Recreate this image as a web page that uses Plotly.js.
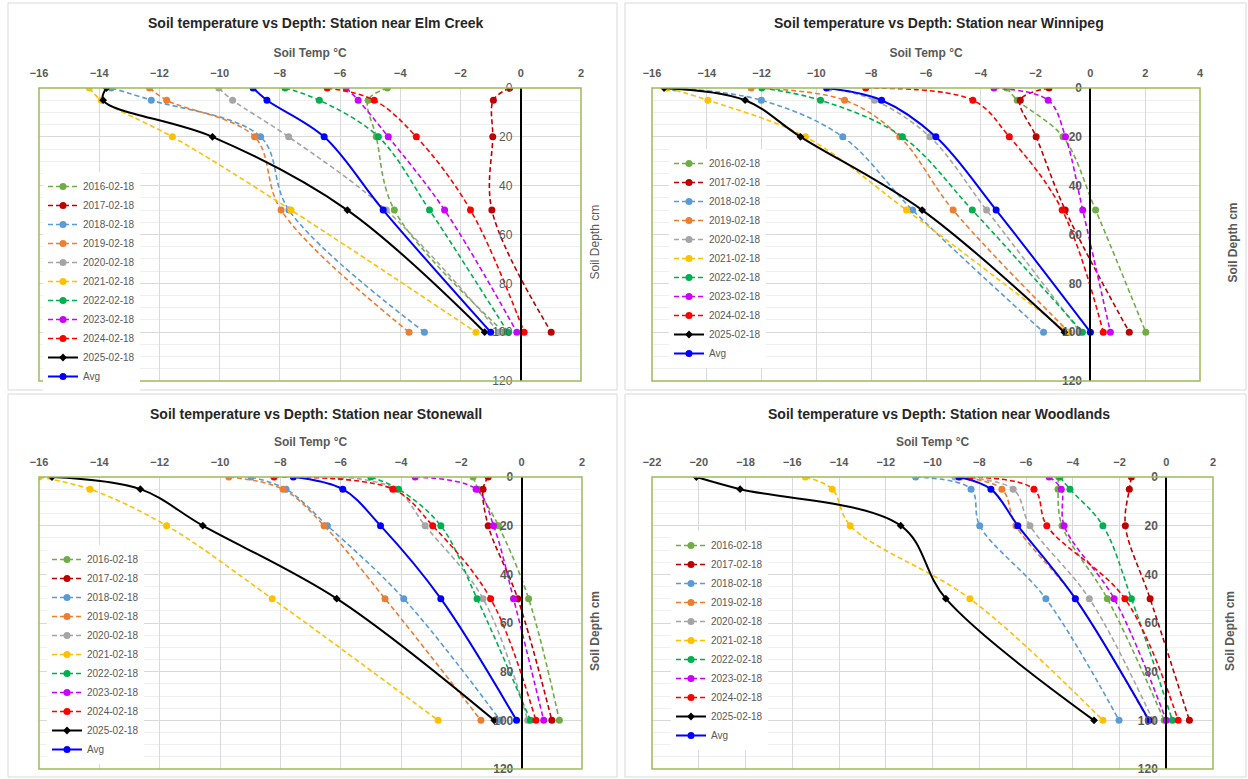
<!DOCTYPE html>
<html><head><meta charset="utf-8">
<script src="https://cdn.plot.ly/plotly-3.0.1.min.js"></script>
<style>html,body{margin:0;padding:0;background:#fff}#chart{width:1248px;height:779px}</style>
</head><body><div id="chart"></div>
<script>
// ---- data ----
const depths = [0, 5, 20, 50, 100];
const seriesNames = ['2016-02-18','2017-02-18','2018-02-18','2019-02-18','2020-02-18','2021-02-18','2022-02-18','2023-02-18','2024-02-18','2025-02-18','Avg'];
const stationNames = ['Elm Creek', 'Winnipeg', 'Stonewall', 'Woodlands'];
const yTicks = [0, 20, 40, 60, 80, 100, 120];

// rows follow seriesNames; columns follow depths (soil temperature, °C)
const elmCreek = [
  [-4.43, -5.07, -4.8, -4.2, -0.56],
  [-0.37, -0.91, -0.93, -0.96, 1.01],
  [-13.6, -12.27, -8.64, -7.7, -3.2],
  [-12.33, -11.76, -8.84, -7.96, -3.71],
  [-10.03, -9.57, -7.71, -4.47, -0.73],
  [-14.33, -13.93, -11.57, -7.63, -1.49],
  [-7.83, -6.69, -4.73, -3.03, -0.43],
  [-5.8, -5.4, -4.4, -2.53, -0.13],
  [-6.43, -4.87, -3.47, -1.67, 0.11],
  [-13.76, -13.87, -10.24, -5.76, -1.2],
  [-8.89, -8.43, -6.53, -4.57, -1.0]
];
const winnipeg = [
  [-3.05, -2.67, -1.0, 0.19, 2.02],
  [-1.51, -2.56, -1.98, -0.92, 1.42],
  [-15.16, -12.01, -9.04, -6.49, -1.71],
  [-12.38, -8.97, -6.96, -5.01, -0.78],
  [-9.52, -7.88, -5.86, -3.79, -0.37],
  [-15.43, -13.96, -10.4, -6.71, -0.84],
  [-11.99, -9.85, -6.86, -4.31, -0.29],
  [-3.52, -1.54, -0.91, -0.28, 0.73],
  [-8.2, -4.29, -2.96, -1.03, 0.47],
  [-15.56, -12.6, -10.58, -6.14, -0.95],
  [-9.63, -7.62, -5.64, -3.44, 0.0]
];
const stonewall = [
  [-1.61, -1.44, -0.77, 0.23, 1.25],
  [-1.11, -1.28, -1.11, -0.13, 1.0],
  [-8.97, -7.81, -6.44, -3.91, -0.71],
  [-9.71, -7.91, -6.55, -4.53, -1.35],
  [-6.0, -4.17, -3.2, -1.28, 0.2],
  [-16.0, -14.31, -11.77, -8.27, -2.77],
  [-5.0, -4.08, -2.68, -1.48, 0.29],
  [-3.53, -1.51, -0.93, -0.27, 0.73],
  [-8.21, -4.27, -2.95, -1.03, 0.47],
  [-15.57, -12.64, -10.57, -6.13, -0.91],
  [-7.57, -5.93, -4.68, -2.68, -0.17]
];
const woodlands = [
  [-4.6, -4.63, -4.46, -2.52, -0.09],
  [-1.49, -1.58, -1.75, -0.69, 0.99],
  [-10.72, -8.35, -7.98, -5.15, -2.02],
  [-8.8, -7.03, -6.43, -3.89, -0.77],
  [-9.04, -6.55, -5.83, -3.29, -0.57],
  [-15.44, -14.29, -13.52, -8.4, -2.71],
  [-4.55, -4.12, -2.71, -1.49, 0.26],
  [-5.01, -4.49, -4.37, -2.23, 0.0],
  [-8.4, -5.66, -5.11, -1.77, 0.51],
  [-20.1, -18.23, -11.36, -9.43, -3.09],
  [-8.87, -7.5, -6.35, -3.89, -0.74]
];
const stationData = [elmCreek, winnipeg, stonewall, woodlands];

// ---- style ----
const seriesColors = ['#70AD47','#C00000','#5B9BD5','#ED7D31','#A5A5A5','#FFC000','#00B050','#CC00FF','#FF0000','#000000','#0000FF'];
const W = 1248, H = 779;
const FONT = 'Liberation Sans, Arial, sans-serif';
const panels = [
  {x0: 39, x1: 581, y0: 88, y1: 381, xr: [-16, 2], legX: 43, legY: 172, box: [8, 3, 617, 390], ytBold: false},
  {x0: 652, x1: 1200, y0: 88, y1: 381, xr: [-16, 4], legX: 669, legY: 149, box: [625, 3, 1246, 390], ytBold: true},
  {x0: 39, x1: 582, y0: 477, y1: 769, xr: [-16, 2], legX: 47, legY: 545, box: [8, 394, 617, 777], ytBold: true},
  {x0: 652, x1: 1213, y0: 477, y1: 769, xr: [-22, 2], legX: 671, legY: 531, box: [625, 394, 1246, 777], ytBold: true}
];
const px = v => v / W, py = v => 1 - v / H;

const traces = [];
const layout = {
  width: W, height: H,
  margin: {l: 0, r: 0, t: 0, b: 0},
  paper_bgcolor: '#fff', plot_bgcolor: '#fff',
  font: {family: FONT, color: '#595959'},
  showlegend: true,
  annotations: [], shapes: []
};

panels.forEach((p, k) => {
  const sfx = k === 0 ? '' : String(k + 1);
  const legName = 'legend' + sfx;
  const data = stationData[k];
  seriesNames.forEach((name, i) => {
    const isAvg = i === 10, isBlack = i === 9;
    traces.push({
      type: 'scatter', mode: 'lines+markers',
      x: data[i], y: depths, name: name,
      xaxis: 'x' + sfx, yaxis: 'y' + sfx, legend: legName,
      line: {color: seriesColors[i], width: (isAvg || isBlack) ? 2 : 1.6,
             dash: (isAvg || isBlack) ? 'solid' : '5px,3px', shape: 'spline', smoothing: 1},
      marker: {color: seriesColors[i], size: isBlack ? 6 : 7, symbol: isBlack ? 'diamond' : 'circle'}
    });
  });
  const xd = [px(p.x0), px(p.x1)];
  const yd = [py(p.y1), py(p.y0)];
  const zeroPx = p.x0 + (0 - p.xr[0]) / (p.xr[1] - p.xr[0]) * (p.x1 - p.x0);
  layout['xaxis' + sfx] = {
    domain: xd, range: p.xr, anchor: 'y' + sfx, side: 'top',
    dtick: 2, tick0: 0, ticks: '', showline: false, zeroline: false,
    showgrid: true, gridcolor: '#d9d9d9', gridwidth: 1,
    ticklabelstandoff: 8,
    tickfont: {family: FONT, size: 11, color: '#595959', weight: 'bold'},
    title: {text: 'Soil Temp °C', font: {family: FONT, size: 12, color: '#595959', weight: 'bold'}, standoff: 6},
    fixedrange: true
  };
  layout['yaxis' + sfx] = {
    domain: yd, range: [120, 0], anchor: 'free', position: px(zeroPx), side: 'left',
    tickvals: yTicks, ticks: '', showline: true, linecolor: '#000', linewidth: 2,
    ticklabelstandoff: 5,
    zeroline: false, showgrid: true, gridcolor: '#d9d9d9', gridwidth: 1,
    minor: {dtick: 5, tick0: 0, showgrid: true, gridcolor: '#efefef', gridwidth: 1},
    tickfont: {family: FONT, size: 12, color: '#595959', weight: p.ytBold ? 'bold' : 'normal'},
    fixedrange: true
  };
  layout[legName] = {
    x: px(p.legX), y: py(p.legY), xanchor: 'left', yanchor: 'top',
    bgcolor: '#ffffff', borderwidth: 0, itemwidth: 30, tracegroupgap: 0,
    font: {family: FONT, size: 10, color: '#595959'}
  };
  // chart frame
  layout.shapes.push({type: 'rect', xref: 'paper', yref: 'paper',
    x0: px(p.box[0]), x1: px(p.box[2]), y0: py(p.box[3]), y1: py(p.box[1]),
    line: {color: '#d9d9d9', width: 1}, layer: 'below'});
  // plot-area border
  layout.shapes.push({type: 'rect', xref: 'x' + sfx + ' domain', yref: 'y' + sfx + ' domain',
    x0: 0, x1: 1, y0: 0, y1: 1, line: {color: '#9BBB59', width: 1.5}, layer: 'above'});
  // panel title
  layout.annotations.push({xref: 'paper', yref: 'paper', x: px((p.box[0] + p.box[2]) / 2 + 3), y: py(p.box[1] + 20),
    xanchor: 'center', yanchor: 'middle', showarrow: false,
    text: 'Soil temperature vs Depth: Station near ' + stationNames[k],
    font: {family: FONT, size: 14, color: '#262626', weight: 'bold'}});
  // y axis title
  layout.annotations.push({xref: 'paper', yref: 'paper', x: px(p.x1 + (k === 3 ? 17 : (k === 1 ? 32 : 13))), y: py((p.y0 + p.y1) / 2 + 8),
    xanchor: 'center', yanchor: 'middle', showarrow: false, textangle: -90,
    text: 'Soil Depth cm',
    font: {family: FONT, size: 12, color: '#595959', weight: p.ytBold ? 'bold' : 'normal'}});
});

Plotly.newPlot('chart', traces, layout, {displayModeBar: false, staticPlot: true});
</script>
</body></html>
